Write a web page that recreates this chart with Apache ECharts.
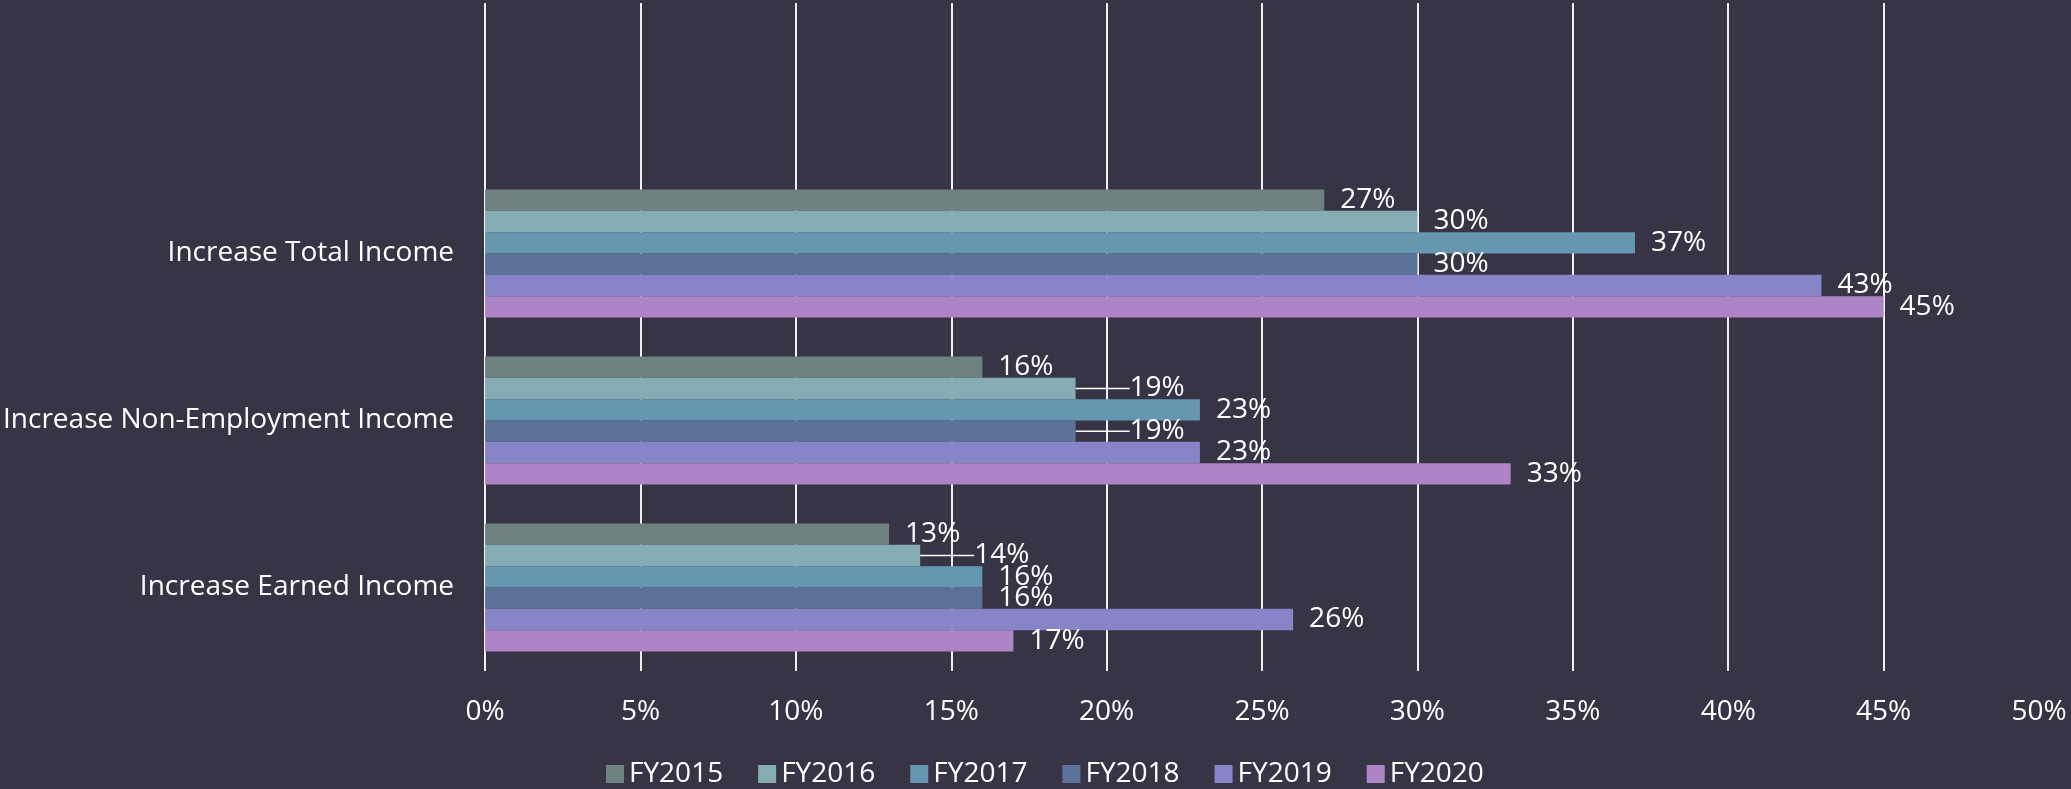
<!DOCTYPE html>
<html><head><meta charset="utf-8">
<script src="https://cdn.jsdelivr.net/npm/echarts@6/dist/echarts.min.js"></script>
<style>html,body{margin:0;padding:0;background:#373446;}#c{width:2071px;height:789px;}</style>
</head><body><div id="c"></div>
<script>
// Categories top-to-bottom (first one is an empty slot, as in the original)
const categories = ['', 'Increase Total Income', 'Increase Non-Employment Income', 'Increase Earned Income'];
const seriesNames = ['FY2015', 'FY2016', 'FY2017', 'FY2018', 'FY2019', 'FY2020'];
const fy2015 = [null, 27, 16, 13];
const fy2016 = [null, 30, 19, 14];
const fy2017 = [null, 37, 23, 16];
const fy2018 = [null, 30, 19, 16];
const fy2019 = [null, 43, 23, 26];
const fy2020 = [null, 45, 33, 17];
const seriesValues = [fy2015, fy2016, fy2017, fy2018, fy2019, fy2020];
const colors = ['#6e8080', '#85acb4', '#6797b0', '#5d7299', '#8785c7', '#ad84c5'];
// labels pushed aside with a leader line (seriesIndex:dataIndex)
const movedLabels = ['1:2', '3:2', '1:3'];

const FONT = 'Open Sans';
const isMoved = (s, d) => movedLabels.indexOf(s + ':' + d) >= 0;
const chart = echarts.init(document.getElementById('c'), null, {renderer: 'canvas'});
chart.setOption({
  backgroundColor: '#373446',
  animation: false,
  textStyle: {fontFamily: FONT},
  grid: {left: 480, right: 32, top: 3, bottom: 118, containLabel: false},
  legend: {
    data: seriesNames,
    left: 606, top: 760, padding: 0,
    icon: 'rect', itemWidth: 18, itemHeight: 18, itemGap: 35,
    textStyle: {color: '#ffffff', fontSize: 28, fontFamily: FONT}
  },
  xAxis: {
    type: 'value', min: 0, max: 50, interval: 5,
    axisLine: {show: false}, axisTick: {show: false},
    splitLine: {show: true, showMaxLine: false, lineStyle: {color: '#f0f0f0', width: 2}},
    axisLabel: {color: '#ffffff', fontSize: 28, fontFamily: FONT, margin: 27, formatter: '{value}%'}
  },
  yAxis: {
    type: 'category', data: categories, inverse: true,
    axisLine: {show: false}, axisTick: {show: false}, splitLine: {show: false},
    axisLabel: {color: '#ffffff', fontSize: 28, fontFamily: FONT, margin: 31}
  },
  series: seriesNames.map((name, i) => ({
    name: name,
    type: 'bar',
    data: seriesValues[i].map((v, j) => isMoved(i, j)
      ? {value: v, labelLine: {show: true, lineStyle: {color: '#ffffff', width: 1.5}}}
      : v),
    barGap: '0%',
    barCategoryGap: '23.4%',
    itemStyle: {color: colors[i]},
    label: {
      show: true, position: 'right', distance: 16,
      color: '#ffffff', fontSize: 28, fontFamily: FONT,
      formatter: p => p.value == null ? '' : p.value + '%'
    },
    labelLine: {show: false},
    labelLayout: function (p) {
      if (!isMoved(p.seriesIndex, p.dataIndex)) return {};
      return {
        x: p.labelRect.x + 38,
        y: p.labelRect.y + p.labelRect.height / 2,
        align: 'left', verticalAlign: 'middle'
      };
    }
  }))
});
</script>
</body></html>
